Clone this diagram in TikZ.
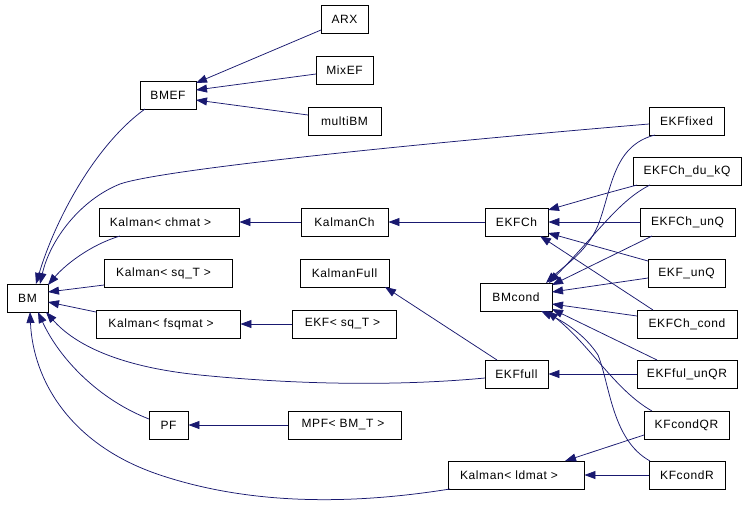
\documentclass[tikz,border=0pt]{standalone}
\usepackage{fontspec}
\setmainfont[LetterSpace=5]{Liberation Sans}
\usetikzlibrary{arrows.meta}
\definecolor{navyedge}{RGB}{25,25,112}
\begin{document}
\begin{tikzpicture}[x=1pt,y=-1pt,
  cls/.style={draw=black, line width=0.9pt, minimum height=28pt, inner sep=0pt, font=\fontsize{12}{14}\selectfont},
  edge/.style={draw=navyedge, line width=0.75pt, -{Triangle[length=11pt,width=8pt]}}]
\useasboundingbox[fill=white] (0,0) rectangle (747,520);
% nodes
\node[cls, minimum width=47pt] (ARX) at (344.5,19) {ARX};
\node[cls, minimum width=57pt] (MixEF) at (344.5,70) {MixEF};
\node[cls, minimum width=73pt] (multiBM) at (344.5,121) {multiBM};
\node[cls, minimum width=56pt] (BMEF) at (168,95) {BMEF};
\node[cls, minimum width=75pt] (EKFfixed) at (686.5,121) {EKFfixed};
\node[cls, minimum width=108pt] (EKFChdukQ) at (687,171) {EKFCh\_du\_kQ};
\node[cls, minimum width=95pt] (EKFChunQ) at (687.5,222) {EKFCh\_unQ};
\node[cls, minimum width=77pt] (EKFunQ) at (686.5,273) {EKF\_unQ};
\node[cls, minimum width=100pt] (EKFChcond) at (687,324) {EKFCh\_cond};
\node[cls, minimum width=100pt] (EKFfulunQR) at (687,374) {EKFful\_unQR};
\node[cls, minimum width=85pt] (KFcondQR) at (686.5,425) {KFcondQR};
\node[cls, minimum width=76pt] (KFcondR) at (687,475) {KFcondR};
\node[cls, minimum width=136pt] (Kldmat) at (516,475) {\hspace*{-14pt}Kalman< ldmat >};
\node[cls, minimum width=63pt] (EKFfull) at (516.5,374) {EKFfull};
\node[cls, minimum width=72pt] (BMcond) at (516,297) {BMcond};
\node[cls, minimum width=63pt] (EKFCh) at (516.5,222) {EKFCh};
\node[cls, minimum width=87pt] (KalmanCh) at (344.5,222) {KalmanCh};
\node[cls, minimum width=140pt] (Kchmat) at (169,222) {\hspace*{-17pt}Kalman< chmat >};
\node[cls, minimum width=128pt] (KsqT) at (168,273) {\hspace*{-9pt}Kalman< sq\_T >};
\node[cls, minimum width=89pt] (KalmanFull) at (344.5,273) {KalmanFull};
\node[cls, minimum width=144pt] (Kfsqmat) at (168,324) {\hspace*{-14pt}Kalman< fsqmat >};
\node[cls, minimum width=104pt] (EKFsqT) at (344,324) {\hspace*{-3pt}EKF< sq\_T >};
\node[cls, minimum width=41pt] (BM) at (27.5,298) {BM};
\node[cls, minimum width=39pt] (PF) at (168.5,425) {PF};
\node[cls, minimum width=113pt] (MPF) at (344.5,425) {\hspace*{-3pt}MPF< BM\_T >};
% edges
\draw[edge] ([shift={(-23.5,11)}]ARX.center) -- ([shift={(28,-12)}]BMEF.center);
\draw[edge] ([shift={(-28.5,4)}]MixEF.center) -- ([shift={(28,-5)}]BMEF.center);
\draw[edge] ([shift={(-36.5,-6)}]multiBM.center) -- ([shift={(28,5)}]BMEF.center);
\draw[edge] ([shift={(-23,14)}]BMEF.center) .. controls (95,145) and (55,220) .. ([shift={(8.5,-14)}]BM.center);
\draw[edge] ([shift={(-37.5,3)}]EKFfixed.center) .. controls (400,145) and (160,170) .. (120,184) .. controls (80,200) and (50,240) .. ([shift={(12.5,-14)}]BM.center);
\draw[edge] ([shift={(-31.5,14)}]EKFfixed.center) .. controls (615,145) and (612,185) .. (600,220) .. controls (590,250) and (565,265) .. ([shift={(30,-14)}]BMcond.center);
\draw[edge] ([shift={(-49,14)}]Kchmat.center) .. controls (90,245) and (65,265) .. ([shift={(20.5,-13)}]BM.center);
\draw[edge] (KalmanCh.west) -- (Kchmat.east);
\draw[edge] (EKFCh.west) -- (KalmanCh.east);
\draw[edge] ([shift={(-50,14)}]EKFChdukQ.center) .. controls (600,195) .. ([shift={(31.5,-12)}]EKFCh.center);
\draw[edge] ([shift={(-37,14)}]EKFChdukQ.center) .. controls (620,200) and (600,230) .. ([shift={(33,-14)}]BMcond.center);
\draw[edge] (EKFChunQ.west) -- (EKFCh.east);
\draw[edge] ([shift={(-35.5,14)}]EKFChunQ.center) -- ([shift={(36,-12)}]BMcond.center);
\draw[edge] ([shift={(-38.5,-12)}]EKFunQ.center) -- ([shift={(31.5,11)}]EKFCh.center);
\draw[edge] ([shift={(-38.5,5)}]EKFunQ.center) -- ([shift={(36,-5)}]BMcond.center);
\draw[edge] ([shift={(-34,-14)}]EKFChcond.center) -- ([shift={(23.5,14)}]EKFCh.center);
\draw[edge] ([shift={(-50,-8)}]EKFChcond.center) -- ([shift={(36,7)}]BMcond.center);
\draw[edge] (EKFfulunQR.west) -- (EKFfull.east);
\draw[edge] ([shift={(-30,-14)}]EKFfulunQR.center) -- ([shift={(36,12)}]BMcond.center);
\draw[edge] ([shift={(-34.5,-14)}]KFcondQR.center) .. controls (615,390) and (590,345) .. ([shift={(31,14)}]BMcond.center);
\draw[edge] ([shift={(-37,-14)}]KFcondR.center) .. controls (612,440) and (610,385) .. (598,355) .. controls (585,335) and (565,322) .. ([shift={(25,14)}]BMcond.center);
\draw[edge] ([shift={(-42.5,10)}]KFcondQR.center) -- ([shift={(49,-14)}]Kldmat.center);
\draw[edge] (KFcondR.west) -- (Kldmat.east);
\draw[edge] ([shift={(-64,12)}]KsqT.center) .. controls (80,288) .. ([shift={(20.5,-6)}]BM.center);
\draw[edge] ([shift={(-72,-12)}]Kfsqmat.center) -- ([shift={(20.5,4)}]BM.center);
\draw[edge] (EKFsqT.west) -- (Kfsqmat.east);
\draw[edge] ([shift={(-31.5,4)}]EKFfull.center) .. controls (400,386) and (300,385) .. (200,375) .. controls (120,367) and (75,345) .. ([shift={(18.5,14)}]BM.center);
\draw[edge] ([shift={(-19.5,-14)}]EKFfull.center) -- ([shift={(40.5,14)}]KalmanFull.center);
\draw[edge] ([shift={(-19.5,-6)}]PF.center) .. controls (100,400) and (60,360) .. ([shift={(10.5,14)}]BM.center);
\draw[edge] (MPF.west) -- (PF.east);
\draw[edge] ([shift={(-66,14)}]Kldmat.center) .. controls (350,505) and (250,505) .. (160,475) .. controls (70,445) and (33,380) .. ([shift={(2.5,14)}]BM.center);
\end{tikzpicture}
\end{document}
